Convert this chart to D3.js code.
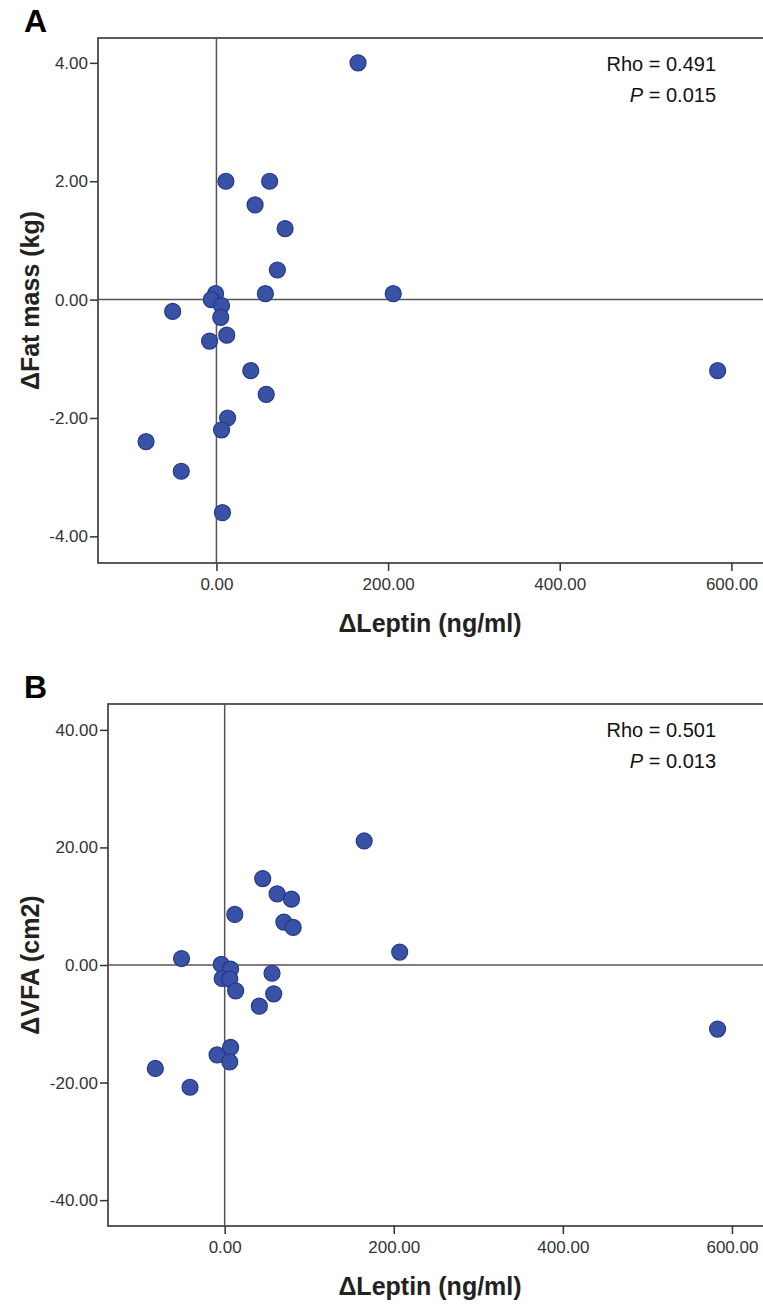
<!DOCTYPE html>
<html>
<head>
<meta charset="utf-8">
<script src="https://cdn.jsdelivr.net/npm/d3@7"></script>
<style>
  body { margin: 0; background: #fff; }
  svg { display: block; }
  .tick text { font-family: "Liberation Sans Narrow", "Arial Narrow", "Liberation Sans", sans-serif; font-size: 17px; fill: #333; }
  .tick line { stroke: #333; stroke-width: 1.5; }
</style>
</head>
<body>
<div class="chart"></div>
<script>
// panel A: change in leptin vs change in fat mass
const leptinA = [165, 11, 62, 45, 80, 71, 57, 206, -1, -6, 6, -51, 5, 12, -8, 40, 58, 13, 6, -82, -41, 7, 584];
const fatMass = [4.0, 2.0, 2.0, 1.6, 1.2, 0.5, 0.1, 0.1, 0.1, 0.0, -0.1, -0.2, -0.3, -0.6, -0.7, -1.2, -1.6, -2.0, -2.2, -2.4, -2.9, -3.6, -1.2];

// panel B: change in leptin vs change in visceral fat area
const leptinB = [165, 207, 583, 45, 62, 79, 12, 70, 81, -51, -4, 7, 56, -3, 6, 13, 58, 41, 7, -9, 6, -82, -41];
const vfa = [21.1, 2.2, -10.9, 14.7, 12.1, 11.2, 8.6, 7.3, 6.4, 1.1, 0.1, -0.7, -1.4, -2.3, -2.4, -4.4, -4.9, -7.0, -14.0, -15.3, -16.5, -17.6, -20.8];

const xTicks = [0, 200, 400, 600];
const yTicksA = [-4, -2, 0, 2, 4];
const yTicksB = [-40, -20, 0, 20, 40];

const width = 763;
const height = 1306;
const svg = d3.select('.chart')
  .append('svg')
  .attr('width', width)
  .attr('height', height);

const fmt = d => d.toFixed(2);  // keep plain hyphen for negatives

function panel(opt) {
  const x = d3.scaleLinear().domain([-138, 645]).range([opt.left, 770]);
  const y = d3.scaleLinear().domain(opt.yDomain).range([opt.bottom, opt.top]);
  const g = svg.append('g');

  // frame
  g.append('rect')
    .attr('x', opt.left)
    .attr('y', opt.top)
    .attr('width', 770 - opt.left)
    .attr('height', opt.bottom - opt.top)
    .attr('fill', 'none')
    .attr('stroke', '#333')
    .attr('stroke-width', 1.6);

  // reference lines at zero
  g.append('line')
    .attr('x1', x(0)).attr('x2', x(0))
    .attr('y1', opt.top).attr('y2', opt.bottom)
    .attr('stroke', '#555').attr('stroke-width', 1.5);
  g.append('line')
    .attr('x1', opt.left).attr('x2', 770)
    .attr('y1', y(0)).attr('y2', y(0))
    .attr('stroke', '#555').attr('stroke-width', 1.5);

  g.append('g')
    .attr('transform', `translate(0,${opt.bottom})`)
    .call(d3.axisBottom(x).tickValues(xTicks).tickFormat(fmt).tickSize(8).tickPadding(7))
    .call(a => a.select('.domain').remove());

  g.append('g')
    .attr('transform', `translate(${opt.left},0)`)
    .call(d3.axisLeft(y).tickValues(opt.yTicks).tickFormat(fmt).tickSize(8).tickPadding(2))
    .call(a => a.select('.domain').remove());

  g.selectAll('circle')
    .data(opt.xs.map((d, i) => [d, opt.ys[i]]))
    .enter()
    .append('circle')
    .attr('cx', d => x(d[0]))
    .attr('cy', d => y(d[1]))
    .attr('r', 8)
    .attr('fill', '#3a52a6')
    .attr('stroke', '#25388a')
    .attr('stroke-width', 1.2);

  // panel letter
  g.append('text')
    .text(opt.letter)
    .attr('x', 24)
    .attr('y', opt.top - 6)
    .attr('font-family', 'Liberation Sans, Arial, sans-serif')
    .attr('font-weight', 'bold')
    .attr('font-size', 32);

  // axis titles
  g.append('text')
    .text('\u0394Leptin (ng/ml)')
    .attr('x', 430)
    .attr('y', opt.bottom + 69)
    .attr('text-anchor', 'middle')
    .attr('font-family', 'Liberation Sans, Arial, sans-serif')
    .attr('font-weight', 'bold')
    .attr('font-size', 25)
    .attr('fill', '#222');

  g.append('text')
    .text(opt.yTitle)
    .attr('transform', `translate(39,${(opt.top + opt.bottom) / 2}) rotate(-90)`)
    .attr('text-anchor', 'middle')
    .attr('font-family', 'Liberation Sans, Arial, sans-serif')
    .attr('font-weight', 'bold')
    .attr('font-size', 25)
    .attr('fill', '#222');

  // correlation note
  g.append('text')
    .text(opt.rho)
    .attr('x', 716)
    .attr('y', opt.top + 33)
    .attr('text-anchor', 'end')
    .attr('font-family', 'Liberation Sans, Arial, sans-serif')
    .attr('font-size', 20)
    .attr('fill', '#111');

  const p = g.append('text')
    .attr('x', 716)
    .attr('y', opt.top + 64)
    .attr('text-anchor', 'end')
    .attr('font-family', 'Liberation Sans, Arial, sans-serif')
    .attr('font-size', 20)
    .attr('fill', '#111');
  p.append('tspan').attr('font-style', 'italic').text('P');
  p.append('tspan').text(' = ' + opt.p);
}

panel({
  letter: 'A', left: 98, top: 38, bottom: 563,
  yDomain: [-4.45, 4.42], yTicks: yTicksA,
  xs: leptinA, ys: fatMass,
  yTitle: '\u0394Fat mass (kg)', rho: 'Rho = 0.491', p: '0.015'
});

panel({
  letter: 'B', left: 108, top: 704, bottom: 1226,
  yDomain: [-44.4, 44.4], yTicks: yTicksB,
  xs: leptinB, ys: vfa,
  yTitle: '\u0394VFA (cm2)', rho: 'Rho = 0.501', p: '0.013'
});
</script>
</body>
</html>
